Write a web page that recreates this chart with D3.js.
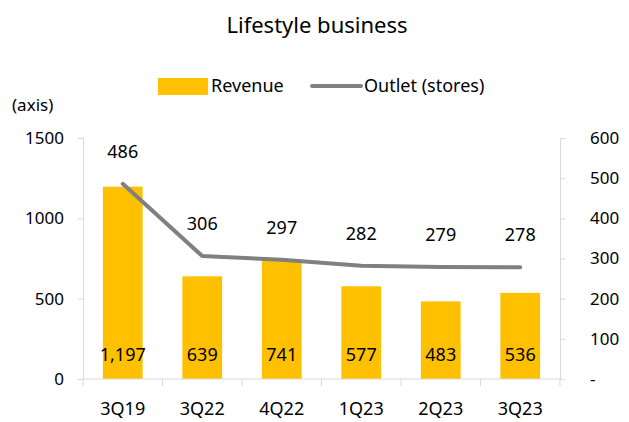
<!DOCTYPE html>
<html>
<head>
<meta charset="utf-8">
<script src="https://cdn.jsdelivr.net/npm/d3@7"></script>
<style>
body { margin: 0; background: #fff; overflow: hidden; }
text { font-family: "Noto Sans", sans-serif; fill: #000; }
</style>
</head>
<body>
<div id="chart"></div>
<script>
var w = 629;
var h = 422;

var quarters = ["3Q19", "3Q22", "4Q22", "1Q23", "2Q23", "3Q23"];
var revenue = [1197, 639, 741, 577, 483, 536];
var outlets = [486, 306, 297, 282, 279, 278];
var leftTicks = [0, 500, 1000, 1500];
var rightTicks = [0, 100, 200, 300, 400, 500, 600];

var svg = d3.select("#chart")
    .append("svg")
    .attr("width", w)
    .attr("height", h)
    .style("display", "block");

var x = d3.scaleBand()
    .domain(quarters)
    .range([83, 560])
    .paddingInner(0.5)
    .paddingOuter(0.25);

var yL = d3.scaleLinear().domain([0, 1500]).range([379, 138]);
var yR = d3.scaleLinear().domain([0, 600]).range([379, 138]);

// left axis
var leftAxis = svg.append("g")
    .attr("transform", "translate(83,0)")
    .call(d3.axisLeft(yL).tickValues(leftTicks).tickSize(5).tickPadding(14)
        .tickFormat(d3.format("d")));
leftAxis.select(".domain").attr("stroke", "#d9d9d9");
leftAxis.selectAll(".tick line").attr("stroke", "#d9d9d9");
leftAxis.selectAll("text").style("font-size", "17px").attr("fill", "#000");

// right axis
var rightAxis = svg.append("g")
    .attr("transform", "translate(560,0)")
    .call(d3.axisRight(yR).tickValues(rightTicks).tickSize(5)
        .tickFormat(d => d === 0 ? "-" : d));
rightAxis.select(".domain").attr("stroke", "#d9d9d9");
rightAxis.selectAll(".tick line").attr("stroke", "#d9d9d9");
rightAxis.selectAll("text").style("font-size", "17px").attr("fill", "#000")
    .attr("text-anchor", "start").attr("x", 30);

// bars
svg.selectAll("rect.bar")
    .data(revenue)
    .join("rect")
    .attr("class", "bar")
    .attr("x", (d, i) => x(quarters[i]))
    .attr("y", d => yL(d))
    .attr("width", x.bandwidth())
    .attr("height", d => yL(0) - yL(d))
    .attr("fill", "#ffc000");

// x axis baseline + category ticks
svg.append("line")
    .attr("x1", 83).attr("x2", 560)
    .attr("y1", 379).attr("y2", 379)
    .attr("stroke", "#d9d9d9");
var step = x.step();
svg.selectAll("line.xtick")
    .data(d3.range(quarters.length + 1))
    .join("line")
    .attr("class", "xtick")
    .attr("x1", i => x(quarters[0]) - step * 0.25 + i * step)
    .attr("x2", i => x(quarters[0]) - step * 0.25 + i * step)
    .attr("y1", 379).attr("y2", 386)
    .attr("stroke", "#d9d9d9");

svg.selectAll("text.xlab")
    .data(quarters)
    .join("text")
    .attr("class", "xlab")
    .attr("x", d => x(d) + x.bandwidth() / 2)
    .attr("y", 415)
    .attr("text-anchor", "middle")
    .style("font-size", "18px")
    .text(d => d);

// revenue labels
svg.selectAll("text.revlab")
    .data(revenue)
    .join("text")
    .attr("class", "revlab")
    .attr("x", (d, i) => x(quarters[i]) + x.bandwidth() / 2)
    .attr("y", 361)
    .attr("text-anchor", "middle")
    .style("font-size", "18px")
    .text(d => d3.format(",")(d));

// outlet line
var line = d3.line()
    .x((d, i) => x(quarters[i]) + x.bandwidth() / 2)
    .y(d => yR(d));
svg.append("path")
    .datum(outlets)
    .attr("d", line)
    .attr("fill", "none")
    .attr("stroke", "#808080")
    .attr("stroke-width", 4)
    .attr("stroke-linecap", "round")
    .attr("stroke-linejoin", "round");

svg.selectAll("text.outlab")
    .data(outlets)
    .join("text")
    .attr("class", "outlab")
    .attr("x", (d, i) => x(quarters[i]) + x.bandwidth() / 2)
    .attr("y", d => yR(d) - 26)
    .attr("text-anchor", "middle")
    .style("font-size", "18px")
    .text(d => d);

// title
svg.append("text")
    .attr("x", 317)
    .attr("y", 33)
    .attr("text-anchor", "middle")
    .style("font-size", "22px")
    .text("Lifestyle business");

svg.append("text")
    .attr("x", 12)
    .attr("y", 111)
    .style("font-size", "17px")
    .text("(axis)");

// legend
svg.append("rect")
    .attr("x", 158).attr("y", 78)
    .attr("width", 50).attr("height", 17)
    .attr("fill", "#ffc000");
svg.append("text")
    .attr("x", 211).attr("y", 92)
    .style("font-size", "18px")
    .text("Revenue");
svg.append("line")
    .attr("x1", 312).attr("x2", 361)
    .attr("y1", 86).attr("y2", 86)
    .attr("stroke", "#808080")
    .attr("stroke-width", 4)
    .attr("stroke-linecap", "round");
svg.append("text")
    .attr("x", 364).attr("y", 92)
    .style("font-size", "18px")
    .text("Outlet (stores)");
</script>
</body>
</html>
